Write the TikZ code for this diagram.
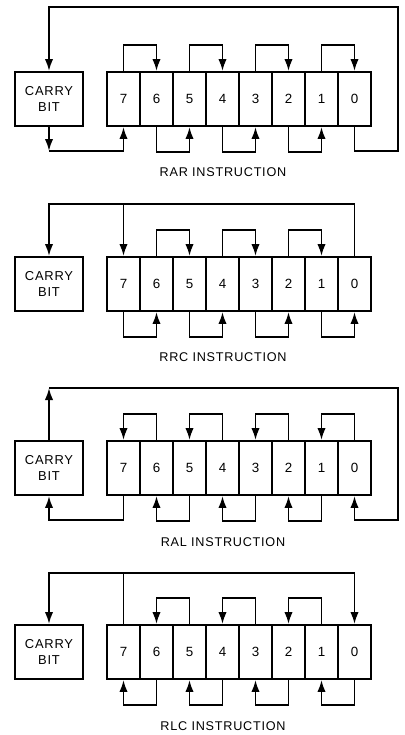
\documentclass[tikz,border=0pt]{standalone}
\usepackage{fontspec}
\setmainfont{Liberation Sans}
\newfontfamily\capfont[LetterSpace=6]{Liberation Sans}
\usetikzlibrary{calc,arrows.meta}
\tikzset{
  regcell/.style={draw, line width=1.4pt, minimum width=8.25mm, minimum height=13.5mm,
                  inner sep=0pt, font=\capfont\fontsize{9.5}{11}\selectfont},
  carrybox/.style={draw, line width=1.4pt, minimum width=17mm, minimum height=13.5mm,
                   inner sep=0pt, align=center, font=\capfont\fontsize{9.2}{11.5}\selectfont},
  wire/.style={line width=1.3pt},
  flow/.style={wire, -{Latex[length=3mm,width=2.1mm]}},
  caplabel/.style={font=\capfont\fontsize{9}{11}\selectfont, inner sep=0pt},
}

\begin{document}
\begin{tikzpicture}[x=0.25mm,y=-0.25mm]
  \useasboundingbox (0,0) rectangle (405,735);
  % ====== RAR ======
  \begin{scope}[shift={(0,72)}, name prefix=rar-]
    \node[carrybox] (carry) at (49,27) {CARRY\\BIT};
    \foreach \d [count=\k from 0] in {7,6,5,4,3,2,1,0}
      \node[regcell] (c\d) at ({123.5+33*\k},27) {\d};
    \foreach \a/\b in {7/6,5/4,3/2,1/0}
      \draw[flow] (c\a.north) -- ++(0,-26) -| (c\b.north);
    \foreach \a/\b in {6/5,4/3,2/1}
      \draw[flow] (c\a.south) -- ++(0,25) -| (c\b.south);
    \coordinate (ne) at (398,-65); \coordinate (se) at (398,79);
    \coordinate (sw) at (49,79);
    \draw[flow] (c0.south) |- (se) -- (ne) -| (carry.north);   % bit 0 -> carry
    \draw[flow] (carry.south) -- (sw);
    \draw[flow] (sw) -| (c7.south);                           % carry -> bit 7
    \node[caplabel] (cap) at (223,100) {RAR INSTRUCTION};
  \end{scope}
  % ====== RRC ======
  \begin{scope}[shift={(0,257)}, name prefix=rrc-]
    \node[carrybox] (carry) at (49,27) {CARRY\\BIT};
    \foreach \d [count=\k from 0] in {7,6,5,4,3,2,1,0}
      \node[regcell] (c\d) at ({123.5+33*\k},27) {\d};
    \foreach \a/\b in {6/5,4/3,2/1}
      \draw[flow] (c\a.north) -- ++(0,-26) -| (c\b.north);
    \foreach \a/\b in {7/6,5/4,3/2,1/0}
      \draw[flow] (c\a.south) -- ++(0,25) -| (c\b.south);
    \coordinate (nw) at (49,-53);
    \draw[flow] (c0.north) |- (nw) -- (carry.north);          % bit 0 -> carry
    \draw[flow] (c7.north |- nw) -- (c7.north);               % bit 0 -> bit 7
    \node[caplabel] (cap) at (223,100) {RRC INSTRUCTION};
  \end{scope}
  % ====== RAL ======
  \begin{scope}[shift={(0,441)}, name prefix=ral-]
    \node[carrybox] (carry) at (49,27) {CARRY\\BIT};
    \foreach \d [count=\k from 0] in {7,6,5,4,3,2,1,0}
      \node[regcell] (c\d) at ({123.5+33*\k},27) {\d};
    \foreach \a/\b in {6/7,4/5,2/3,0/1}
      \draw[flow] (c\a.north) -- ++(0,-26) -| (c\b.north);
    \foreach \a/\b in {5/6,3/4,1/2}
      \draw[flow] (c\a.south) -- ++(0,25) -| (c\b.south);
    \coordinate (nw) at (49,-53); \coordinate (ne) at (398,-53);
    \coordinate (se) at (398,79); \coordinate (sw) at (49,79);
    \draw[flow] (c7.south) |- (sw) -- (carry.south);          % bit 7 -> carry
    \draw[flow] (carry.north) -- (nw);
    \draw[flow] (nw) -- (ne) -- (se) -| (c0.south);           % carry -> bit 0
    \node[caplabel] (cap) at (223,101) {RAL INSTRUCTION};
  \end{scope}
  % ====== RLC ======
  \begin{scope}[shift={(0,625)}, name prefix=rlc-]
    \node[carrybox] (carry) at (49,27) {CARRY\\BIT};
    \foreach \d [count=\k from 0] in {7,6,5,4,3,2,1,0}
      \node[regcell] (c\d) at ({123.5+33*\k},27) {\d};
    \foreach \a/\b in {5/6,3/4,1/2}
      \draw[flow] (c\a.north) -- ++(0,-26) -| (c\b.north);
    \foreach \a/\b in {6/7,4/5,2/3,0/1}
      \draw[flow] (c\a.south) -- ++(0,25) -| (c\b.south);
    \coordinate (nw) at (49,-52);
    \draw[flow] (c7.north) |- (nw) -- (carry.north);          % bit 7 -> carry
    \draw[flow] (c7.north |- nw) -| (c0.north);               % bit 7 -> bit 0
    \node[caplabel] (cap) at (223,101) {RLC INSTRUCTION};
  \end{scope}
\end{tikzpicture}
\end{document}
